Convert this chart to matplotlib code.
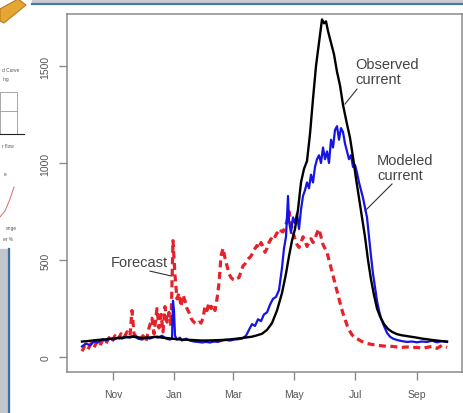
import matplotlib.pyplot as plt
from matplotlib.lines import Line2D
from matplotlib.patches import Rectangle, Polygon

plt.rcParams["font.family"] = ["Liberation Sans", "DejaVu Sans"]

# days since Oct 1 of the water year
month_days = [31, 92, 151, 212, 273, 335]
month_labels = ["Nov", "Jan", "Mar", "May", "Jul", "Sep"]
y_ticks = [0, 500, 1000, 1500]

obs_day = [0, 5, 10, 15, 20, 25, 30, 35, 40, 45, 50, 55, 60, 65, 70, 75, 80, 85, 90,
           95, 100, 110, 120, 130, 140, 150, 160, 170, 175, 180, 185, 190, 195, 200,
           204, 207, 210, 213, 216, 219, 222, 225, 228, 231, 234, 237, 240, 242, 244,
           246, 249, 252, 255, 258, 261, 265, 268, 271, 274, 277, 280, 283, 286, 289,
           292, 295, 298, 302, 306, 310, 315, 320, 325, 330, 335, 340, 345, 350, 355,
           360, 365]
obs_cfs = [80, 82, 85, 88, 90, 92, 95, 98, 100, 102, 105, 103, 98, 100, 102, 105, 100, 98, 95,
           92, 90, 88, 85, 86, 88, 92, 98, 105, 112, 120, 140, 175, 240, 330,
           430, 520, 600, 660, 760, 900, 970, 1010, 1150, 1330, 1500, 1620, 1740, 1720, 1730,
           1680, 1620, 1560, 1470, 1400, 1300, 1200, 1130, 1030, 920, 820, 720, 620, 500, 400,
           320, 250, 210, 170, 145, 130, 118, 112, 108, 104, 100, 95, 92, 88, 85,
           82, 80]

mod_day = [0, 4, 8, 12, 16, 20, 24, 28, 32, 36, 40, 44, 48, 52, 56, 60, 64, 68, 72, 76,
           80, 84, 88, 90, 91, 92, 93, 95, 98, 100, 104, 108, 112, 116, 120, 124, 128,
           132, 136, 140, 144, 148, 152, 156, 160, 164, 167, 170, 173, 176, 179, 182,
           185, 188, 191, 194, 197, 200, 202, 204, 206, 207, 209, 211, 213, 215, 217,
           219, 221, 223, 225, 227, 229, 231, 233, 235, 237, 239, 241, 243, 245, 247,
           249, 251, 253, 255, 257, 259, 261, 263, 265, 267, 269, 271, 273, 275, 277,
           279, 281, 283, 285, 287, 289, 291, 293, 295, 297, 299, 302, 305, 308, 311,
           315, 320, 325, 330, 335, 340, 345, 350, 355, 360, 365]
mod_cfs = [55, 70, 60, 80, 75, 90, 85, 95, 90, 100, 95, 105, 100, 110, 95, 90, 100, 95, 105, 100,
           110, 95, 90, 95, 290, 240, 110, 90, 100, 85, 95, 85, 80, 78, 75, 78, 75,
           80, 78, 85, 88, 85, 90, 92, 95, 110, 140, 170, 160, 195, 185, 220,
           230, 270, 300, 310, 345, 460, 560, 620, 830, 700, 640, 720, 690, 740, 660,
           760, 830, 860, 900, 870, 940, 900, 980, 1020, 1040, 1000, 1080, 1020, 1060, 1000,
           1120, 1080, 1170, 1190, 1120, 1180, 1160, 1100, 1060, 1020, 1040, 980, 990, 950, 900,
           860, 820, 770, 720, 620, 520, 430, 360, 290, 240, 200, 160, 125, 105, 95,
           88, 82, 78, 80, 76, 80, 78, 84, 76, 82, 78]

fc_day = [0, 3, 6, 9, 12, 15, 18, 21, 24, 27, 30, 33, 36, 39, 42, 45, 48, 50, 52, 55,
          58, 61, 64, 67, 70, 72, 75, 77, 79, 81, 83, 85, 87, 89, 91, 93, 95, 97, 99,
          101, 103, 105, 107, 109, 111, 113, 115, 117, 119, 121, 123, 125, 127, 129,
          131, 133, 135, 137, 139, 141, 143, 145, 147, 149, 151, 153, 155, 157, 159,
          161, 163, 165, 167, 169, 171, 173, 175, 177, 179, 181, 183, 185, 187, 189,
          191, 193, 195, 197, 199, 201, 203, 205, 207, 209, 211, 213, 215, 217, 219,
          221, 223, 225, 227, 229, 231, 233, 235, 237, 239, 241, 243, 245, 247, 249,
          251, 253, 255, 257, 259, 261, 263, 265, 267, 270, 273, 276, 280, 285, 290,
          295, 300, 305, 310, 315, 320, 325, 330, 335, 340, 345, 350, 355, 360, 365]
fc_cfs = [30, 60, 40, 70, 50, 80, 60, 90, 70, 100, 80, 110, 90, 120, 100, 130, 110, 240, 120, 100,
          90, 110, 80, 150, 200, 120, 250, 150, 220, 130, 260, 180, 230, 160, 600, 420, 300, 330, 260,
          320, 290, 250, 230, 200, 185, 175, 170, 180, 175, 200, 260, 240, 280, 250,
          270, 240, 300, 380, 520, 560, 510, 470, 430, 410, 400, 395, 405, 410, 440,
          470, 480, 500, 510, 520, 540, 560, 575, 560, 590, 570, 540, 560, 590, 610,
          600, 620, 640, 630, 650, 645, 670, 700, 750, 690, 640, 610, 580, 565, 590,
          620, 600, 570, 590, 610, 590, 610, 640, 660, 620, 580, 560, 540, 500, 460,
          420, 380, 340, 300, 260, 225, 195, 165, 140, 115, 100, 92, 80, 70, 65,
          60, 58, 55, 55, 52, 50, 52, 48, 50, 45, 50, 55, 45, 60, 50]

W, H = 463, 414


def fx(px):
    return px / W


def fy(py):
    return 1 - py / H


fig = plt.figure(figsize=(4.63, 4.14), dpi=100)

# bits of the surrounding slide
fig.patches.append(Rectangle((fx(32), fy(3.5)), 1, 3.5 / H, transform=fig.transFigure,
                             color="#c9cbcf", zorder=0))
fig.lines.append(Line2D([fx(32), 1], [fy(4.5), fy(4.5)], transform=fig.transFigure,
                        color="#4a76ad", lw=1.6))
fig.patches.append(Rectangle((0, 0), fx(8.5), fy(250), transform=fig.transFigure,
                             color="#c3c7cd", zorder=0))
fig.lines.append(Line2D([fx(9), fx(9)], [0, fy(250)], transform=fig.transFigure,
                        color="#3f6fa6", lw=1.6))
fig.patches.append(Polygon([(fx(0), fy(10)), (fx(18), fy(0)), (fx(26), fy(6)), (fx(4), fy(24)), (fx(0), fy(22))],
                           closed=True, transform=fig.transFigure, facecolor="#e6a634",
                           edgecolor="#b87a22", lw=0.8))
fig.patches.append(Rectangle((fx(0), fy(135)), fx(17), (135 - 93) / H, transform=fig.transFigure,
                             fill=False, edgecolor="#999999", lw=0.6))
fig.lines.append(Line2D([fx(0), fx(17)], [fy(112), fy(112)], transform=fig.transFigure,
                        color="#999999", lw=0.6))
fig.lines.append(Line2D([fx(0), fx(24)], [fy(135), fy(135)], transform=fig.transFigure,
                        color="#222222", lw=0.8))
fig.lines.append(Line2D([fx(0), fx(5), fx(10), fx(14)], [fy(218), fy(212), fy(200), fy(188)],
                        transform=fig.transFigure, color="#d96a6a", lw=0.7))
for txt, px, py in [("d Curve", 2, 71), ("ing", 3, 80), ("r flow", 2, 146), ("e", 4, 175),
                    ("ange", 6, 229), ("er %", 3, 240)]:
    fig.text(fx(px), fy(py), txt, fontsize=3.5, color="#555555", va="center")

ax = fig.add_axes([fx(67), fy(373), (462 - 67) / W, (373 - 15) / H])
ax.plot(fc_day, fc_cfs, color="#e8202a", lw=2.3, dashes=(2.2, 1.4))
ax.plot(mod_day, mod_cfs, color="#1414e6", lw=1.6)
ax.plot(obs_day, obs_cfs, color="black", lw=1.7)

ax.set_xlim(-15, 380)
ax.set_ylim(-77, 1768)
ax.set_xticks(month_days)
ax.set_xticklabels(month_labels)
ax.set_yticks(y_ticks)
ax.set_yticklabels([str(v) for v in y_ticks], rotation=90, va="center")
ax.tick_params(length=6, width=1, color="#8a8a8a", labelcolor="#555555", labelsize=7.5, pad=6)
for s in ax.spines.values():
    s.set_color("#8a8a8a")
    s.set_linewidth(1.1)

ax.text(273, 1472, "Observed\ncurrent", ha="left", va="center", fontsize=10.5, color="#444444",
        linespacing=1.1)
ax.plot([275, 263], [1381, 1304], color="#333333", lw=0.8)
ax.text(295, 975, "Modeled\ncurrent", ha="left", va="center", fontsize=10.5, color="#444444",
        linespacing=1.1)
ax.plot([310, 283], [892, 753], color="#333333", lw=0.8)
ax.text(86, 490, "Forecast", ha="right", va="center", fontsize=10.5, color="#444444")
ax.plot([68, 90], [443, 417], color="#333333", lw=0.8)

fig.savefig("out.png", dpi=100)
